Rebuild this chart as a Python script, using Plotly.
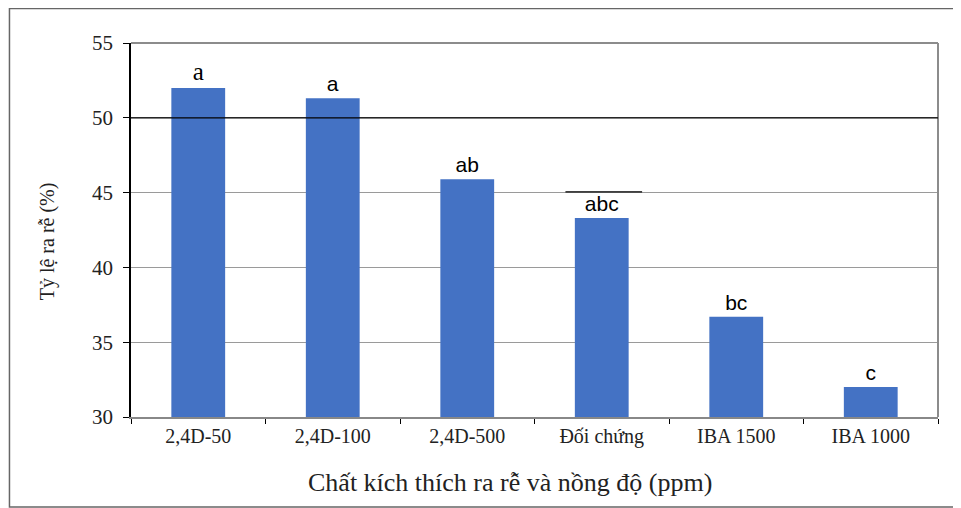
import plotly.graph_objects as go

categories = ["2,4D-50", "2,4D-100", "2,4D-500", "Đối chứng", "IBA 1500", "IBA 1000"]
values = [52.0, 51.3, 45.9, 43.3, 36.7, 32.0]
letters = ["a", "a", "ab", "abc", "bc", "c"]
y_ticks = [30, 35, 40, 45, 50, 55]

SERIF = "Liberation Serif, Times New Roman, serif"
SANS = "Liberation Sans, Arial, sans-serif"
letter_fonts = [SERIF, SANS, SANS, SANS, SANS, SANS]
letter_sizes = [25, 21, 21, 21, 21, 21]

fig = go.Figure()
fig.add_trace(go.Bar(
    x=categories, y=values, text=letters, textposition="outside",
    textfont=dict(family=letter_fonts, size=letter_sizes, color="black"),
    marker=dict(color="#4472C4", line=dict(width=0)),
    cliponaxis=False,
))

fig.update_layout(
    width=953, height=500,
    margin=dict(l=123, r=23, t=35, b=91),
    paper_bgcolor="white", plot_bgcolor="white",
    bargap=0.6, showlegend=False,
    font=dict(family=SERIF, color="#222"),
)
fig.update_yaxes(
    range=[30, 55], tickvals=y_ticks, showgrid=True, gridcolor="#9a9a9a", gridwidth=1,
    showline=True, linecolor="black", linewidth=1.5, ticks="outside", ticklen=6,
    tickcolor="black", tickfont=dict(size=21, family=SERIF, color="#222"),
    ticklabelstandoff=6, zeroline=False,
)
fig.update_xaxes(
    showline=True, linecolor="#888", linewidth=2, ticks="outside", ticklen=5,
    tickcolor="black", tickson="boundaries", tickfont=dict(size=20, family=SERIF, color="#222"),
)
# top and right plot frame (gray)
fig.add_shape(type="line", xref="paper", yref="paper", x0=0, x1=1, y0=1, y1=1,
              line=dict(color="#8c8c8c", width=2))
fig.add_shape(type="line", xref="paper", yref="paper", x0=1, x1=1, y0=0, y1=1,
              line=dict(color="#8c8c8c", width=2))
# black gridline at 50
fig.add_shape(type="line", xref="paper", yref="y", x0=0, x1=1, y0=50, y1=50,
              line=dict(color="black", width=1.2))
# small black segment above Đối chứng
fig.add_shape(type="line", xref="x", yref="y", x0=2.73, x1=3.30, y0=45.05, y1=45.05,
              line=dict(color="black", width=1.2))
# outer figure border
fig.add_shape(type="rect", xref="paper", yref="paper", x0=-0.1506, x1=1.04, y0=-0.2406, y1=1.0922,
              line=dict(color="#666", width=1.5), fillcolor="rgba(0,0,0,0)", layer="below")

fig.add_annotation(text="Chất kích thích ra rễ và nồng độ (ppm)", xref="paper", yref="paper",
                   x=0.4696, y=-0.176, showarrow=False, yanchor="middle",
                   font=dict(size=26, family=SERIF, color="#222"))
fig.add_annotation(text="Tỷ lệ ra rễ (%)", xref="paper", yref="paper",
                   x=-0.104, y=0.47, textangle=-90, showarrow=False, xanchor="center",
                   font=dict(size=20, family=SERIF, color="#222"))

fig.write_html("out.html")
